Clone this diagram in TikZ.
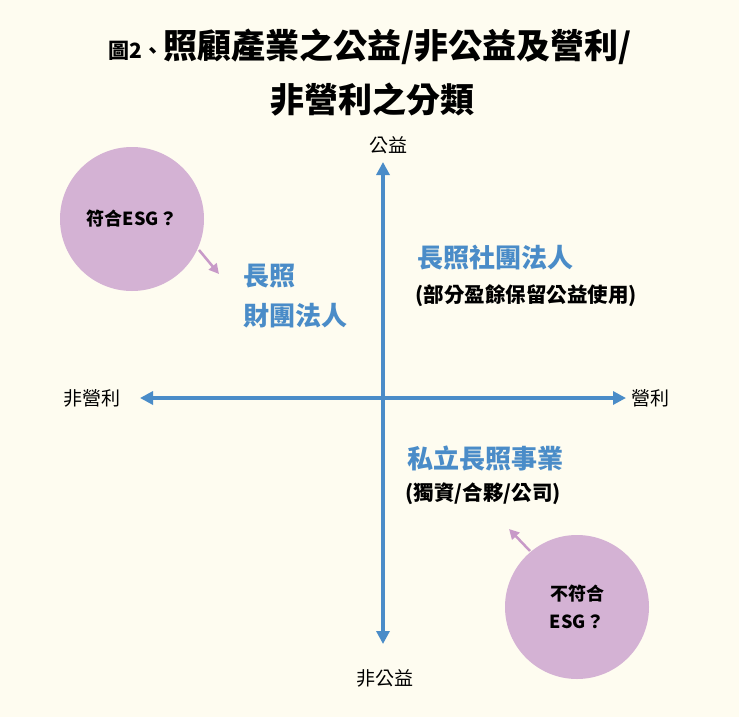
\documentclass[tikz,border=0pt]{standalone}
\usepackage{fontspec}
\setmainfont{Liberation Serif}
\newfontfamily\cjk{Noto Sans CJK TC}
\usetikzlibrary{arrows.meta}
\definecolor{bg}{HTML}{FEFCF0}
\definecolor{ax}{HTML}{4A8CC8}
\definecolor{pk}{HTML}{D4B2D4}
\definecolor{pa}{HTML}{C89AC8}
\begin{document}
\begin{tikzpicture}[x=1pt,y=-1pt,
  axis/.style={ax,line width=3.2pt,{Triangle[length=13pt,width=13pt]}-{Triangle[length=13pt,width=13pt]}},
  lab/.style={font=\cjk\fontsize{19}{21}\selectfont},
  blue/.style={font=\cjk\bfseries\fontsize{26}{40}\selectfont,text=ax,align=left},
  par/.style={font=\cjk\bfseries\fontsize{20.5}{22}\selectfont},
  circ/.style={circle,fill=pk,minimum size=144pt,inner sep=0pt,font=\cjk\bfseries\fontsize{18}{28}\selectfont,align=center},
  parr/.style={pa,line width=2.5pt,-{Triangle[length=10pt,width=10pt]}}]
\fill[bg] (0,0) rectangle (739,717);
\useasboundingbox (0,0) rectangle (739,717);
\node (t1) at (370,47) {\cjk\bfseries{\fontsize{21}{24}\selectfont 圖2、}\fontsize{34}{38}\selectfont 照顧產業之公益/非公益及營利/};
\node (t2) at (372,100) {\cjk\bfseries\fontsize{34}{38}\selectfont 非營利之分類};
\node[lab] (top) at (388,145) {公益};
\node[lab] (bot) at (385,678) {非公益};
\node[lab] (left) at (92,398) {非營利};
\node[lab] (right) at (650,398) {營利};
\coordinate (vt) at (383,162); \coordinate (vb) at (383,644);
\coordinate (hl) at (140,398); \coordinate (hr) at (626,398);
\draw[axis] (vt) -- (vb);
\draw[axis] (hl) -- (hr);
\node[circ] (c1) at (132,219) {符合ESG？};
\node[circ] (c2) at (577,607) {不符合\\ESG？};
\coordinate (s1) at (199,250); \coordinate (a1) at (219,274);
\coordinate (s2) at (530,551); \coordinate (a2) at (509,529);
\draw[parr] (s1) -- (a1);
\draw[parr] (s2) -- (a2);
\node[blue,anchor=west] (b1) at (240,296) {長照\\財團法人};
\node[blue,anchor=west] (b2) at (414,258) {長照社團法人};
\node[par,anchor=west] (p2) at (412,296) {(部分盈餘保留公益使用)};
\node[blue,anchor=west] (b3) at (404,458) {私立長照事業};
\node[par,anchor=west] (p3) at (402,494) {(獨資/合夥/公司)};
\end{tikzpicture}
\end{document}
